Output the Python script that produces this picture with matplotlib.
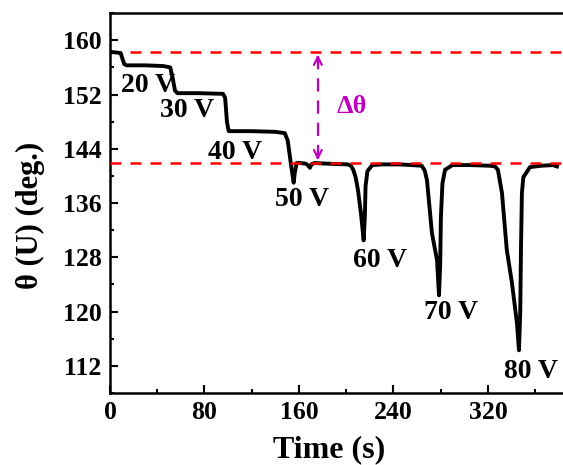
import numpy as np
import matplotlib.pyplot as plt
from matplotlib.ticker import MultipleLocator, FixedLocator

plt.rcParams['font.family'] = ['Liberation Serif', 'DejaVu Serif']
plt.rcParams['font.weight'] = 'bold'

# контактный угол во времени
time = [0, 5, 9, 10.5, 12, 14, 30, 45, 51, 53, 55, 57, 75, 95.7, 97.5, 99, 100.5, 120, 140, 148,
        150.5, 153, 155.5, 156.5, 158, 161, 166, 168, 169.3, 170.5, 173, 185, 201.5, 204, 206,
        208, 210, 212.5, 214.8, 215.8, 216.4, 218, 222, 230, 245, 255, 264, 266.5, 268.4,
        272.6, 276.9, 278.6, 279.6, 280.2, 281.5, 283.7, 290, 305, 322, 326, 328.5, 331.9,
        336, 340.4, 344.6, 346.3, 347.4, 348, 348.8, 350, 355.6, 365, 375, 378.5]
theta = [158.3, 158.2, 158.1, 157.3, 156.5, 156.3, 156.3, 156.2, 156.0, 154.5, 152.6, 152.2,
         152.2, 152.1, 151.5, 148.0, 146.6, 146.6, 146.5, 146.3,
         145.2, 142.0, 139.0, 140.5, 141.9, 141.9, 141.8, 141.5, 141.2, 141.7, 141.9, 141.8,
         141.7, 141.5, 140.9, 139.8, 137.9, 134.5, 130.5, 134.0, 138.5, 140.7, 141.6, 141.7,
         141.7, 141.6, 141.5, 140.8, 139.4, 131.6, 127.6, 122.4, 127.0, 133.9, 138.9, 140.9,
         141.6, 141.6, 141.5, 141.4, 140.9, 137.5, 129.1, 124.2, 118.3, 114.3, 120.0, 129.1,
         137.5, 139.8, 141.3, 141.5, 141.6, 141.4]

theta_top = 158.3
theta_bottom = 141.9

labels = ['20 V', '30 V', '40 V', '50 V', '60 V', '70 V', '80 V']
label_t = [32.2, 65.6, 105.8, 163, 229, 288.7, 356.9]
label_th = [153.4, 149.7, 143.5, 136.5, 127.5, 119.8, 111.1]

fig = plt.figure(figsize=(5.63, 4.65), dpi=100)
ax = fig.add_axes([0.1954, 0.1548, 0.839, 0.817])

red_dash = (0, (4.4, 3.6))
ax.axhline(theta_top, color='red', lw=1.8, linestyle=red_dash, zorder=1)
ax.axhline(theta_bottom, color='red', lw=1.8, linestyle=red_dash, zorder=3)
ax.plot(time, theta, color='black', lw=2.8, zorder=2, solid_joinstyle='round')

# стрелка Δθ
mag = '#C000C0'
ax.plot([176, 176], [theta_top - 0.6, theta_bottom + 0.6], color=mag, lw=1.6,
        linestyle=(0, (6, 4)))
ax.annotate('', xy=(176, theta_top), xytext=(176, theta_top - 1.5),
            arrowprops=dict(arrowstyle='->', color=mag, lw=1.6, mutation_scale=14))
ax.annotate('', xy=(176, theta_bottom), xytext=(176, theta_bottom + 1.5),
            arrowprops=dict(arrowstyle='->', color=mag, lw=1.6, mutation_scale=14))
ax.text(192, 150.3, 'Δθ', color=mag, fontsize=19, fontweight='bold', va='center')

for s, t, th in zip(labels, label_t, label_th):
    ax.text(t, th, s, fontsize=20, fontweight='bold', ha='center', va='center')

ax.set_xlim(0, 400)
ax.set_ylim(108, 164)
ax.xaxis.set_major_locator(FixedLocator([0, 80, 160, 240, 320]))
ax.xaxis.set_minor_locator(FixedLocator([40, 120, 200, 280, 360]))
ax.yaxis.set_major_locator(MultipleLocator(8))
ax.yaxis.set_minor_locator(MultipleLocator(4))
ax.tick_params(which='both', direction='in', width=1.5, labelsize=18.5, pad=6)
ax.tick_params(which='major', length=6)
ax.tick_params(which='minor', length=3)
ax.spines['right'].set_visible(False)
for sp in ['left', 'bottom', 'top']:
    ax.spines[sp].set_linewidth(1.8)

ax.set_xlabel('Time (s)', fontsize=23, fontweight='bold')
ax.set_ylabel('θ (U) (deg.)', fontsize=22, fontweight='bold')
ax.xaxis.set_label_coords(0.4636, -0.11)
ax.yaxis.set_label_coords(-0.138, 0.468)

fig.savefig('out.png', dpi=100)
